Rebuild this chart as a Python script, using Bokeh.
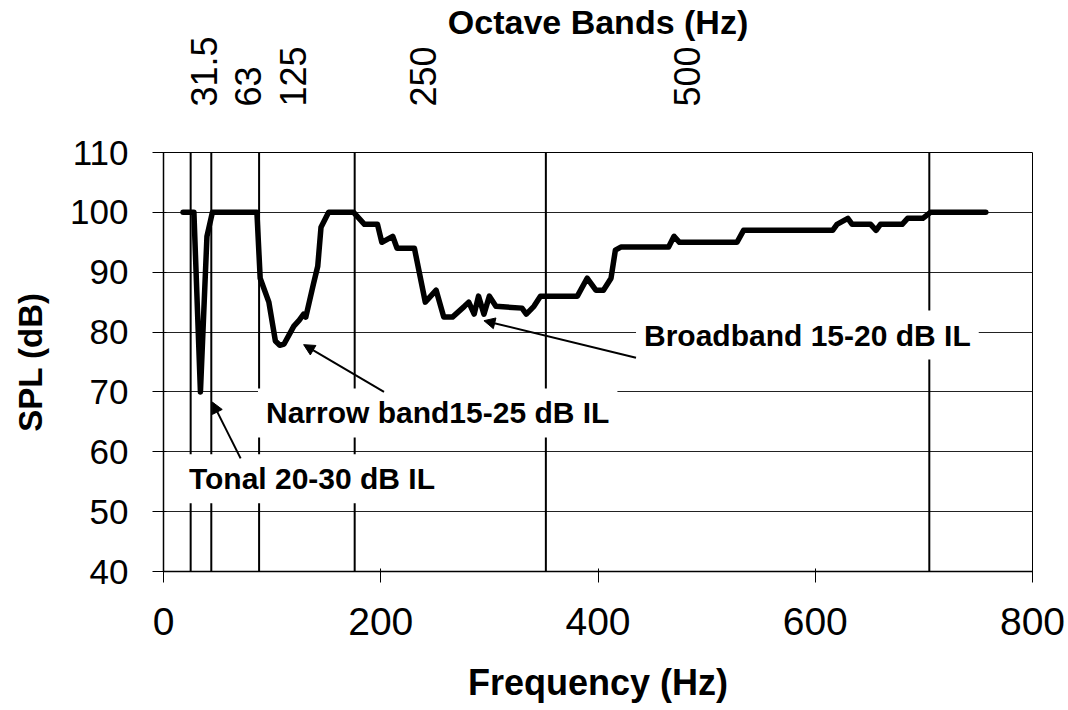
import math
from bokeh.plotting import figure
from bokeh.models import Range1d, LinearAxis, FixedTicker, Label, Arrow, NormalHead
from bokeh.embed import file_html
from bokeh.resources import INLINE

# Measured spectrum with the treatment in place
freq_hz = [18, 28, 34, 40, 45, 86, 89, 97, 103, 107, 111, 120, 125, 129, 131,
           138, 142, 145, 152, 175, 185, 197, 201, 211, 215, 231, 241, 251,
           258, 266, 277, 281, 286, 290, 295, 300, 306, 330, 334, 341, 347,
           381, 390, 398, 405, 412, 416, 421, 465, 470, 475, 528, 534, 616,
           620, 630, 634, 651, 656, 660, 680, 685, 699, 706, 757]
spl_db = [100, 100, 70, 96, 100, 100, 89, 85, 78.5, 77.8, 78, 81, 82, 83, 82.5,
          88, 91, 97.5, 100, 100, 98, 98, 95, 96, 94, 94, 85, 87,
          82.5, 82.5, 84.3, 85, 83, 86, 83, 86, 84.3, 84, 83, 84.3, 86,
          86, 89, 87, 87, 89, 93.7, 94.2, 94.2, 96, 95, 95, 97, 97,
          98, 99, 98, 98, 97, 98, 98, 99, 99, 100, 100]

# Octave band edges (Hz) and the band labels of the upper axis
band_edges_hz = [25, 44, 88, 176, 352, 705]
octave_tick_hz = [37, 78, 119, 239, 482]
octave_labels = ["31.5", "63", "125", "250", "500"]

x_ticks = [0, 200, 400, 600, 800]
y_ticks = [40, 50, 60, 70, 80, 90, 100, 110]
x_min, x_max = 0, 800
y_min, y_max = 40, 110

FONT = "Liberation Sans"

p = figure(width=1068, height=710,
           x_range=Range1d(x_min, x_max), y_range=Range1d(y_min, y_max),
           output_backend="svg", toolbar_location=None,
           min_border_left=163, min_border_right=36,
           min_border_top=148, min_border_bottom=139)
p.background_fill_color = "white"
p.border_fill_color = "white"
p.outline_line_color = "black"
p.outline_line_width = 1

# grid: horizontal only, vertical lines mark the octave bands
p.xgrid.visible = False
p.ygrid.ticker = FixedTicker(ticks=y_ticks)
p.ygrid.grid_line_color = "#222222"
p.ygrid.grid_line_width = 1

for ax, ticks in ((p.xaxis[0], x_ticks), (p.yaxis[0], y_ticks)):
    ax.ticker = FixedTicker(ticks=ticks)
    ax.axis_line_color = "black"
    ax.axis_line_width = 1.5
    ax.major_tick_line_color = "black"
    ax.major_tick_line_width = 1
    ax.major_tick_out = 11
    ax.major_tick_in = 3
    ax.minor_tick_line_color = None
    ax.major_label_text_font = FONT
    ax.major_label_text_color = "black"
    ax.axis_label_text_font = FONT
    ax.axis_label_text_font_style = "bold"
    ax.axis_label_text_color = "black"

p.xaxis.axis_label = "Frequency (Hz)"
p.xaxis.major_label_text_font_size = "39px"
p.xaxis.major_label_standoff = 25
p.xaxis.axis_label_text_font_size = "36px"
p.xaxis.axis_label_standoff = 24
p.yaxis.axis_label = "SPL (dB)"
p.yaxis.major_label_text_font_size = "35px"
p.yaxis.major_label_standoff = 24
p.yaxis.axis_label_text_font_size = "33px"
p.yaxis.axis_label_standoff = 18

top = LinearAxis(ticker=FixedTicker(ticks=octave_tick_hz),
                 major_label_overrides=dict(zip(octave_tick_hz, octave_labels)),
                 major_label_orientation=math.pi / 2,
                 axis_line_color=None, major_tick_line_color=None,
                 minor_tick_line_color=None,
                 major_label_standoff=40,
                 major_label_text_font=FONT,
                 major_label_text_font_size="36px",
                 major_label_text_color="black",
                 axis_label="Octave Bands (Hz)",
                 axis_label_text_font=FONT,
                 axis_label_text_font_style="bold",
                 axis_label_text_font_size="34px",
                 axis_label_text_color="black",
                 axis_label_standoff=-8)
p.add_layout(top, "above")

# octave band boundaries
p.segment(x0=band_edges_hz, y0=[y_min] * len(band_edges_hz),
          x1=band_edges_hz, y1=[y_max] * len(band_edges_hz),
          line_color="black", line_width=2)

# spectrum
p.line(freq_hz, spl_db, line_color="black", line_width=5.5,
       line_join="round", line_cap="round")

# annotations
def note(x, y, text):
    p.add_layout(Label(x=x, y=y, text=text, text_font=FONT,
                       text_font_style="bold", text_font_size="30px",
                       text_color="black", text_baseline="alphabetic",
                       background_fill_color="white", padding=8))

note(16, 55.5, "Tonal 20-30 dB IL")
note(87, 66.5, "Narrow band15-25 dB IL")
note(435, 79.5, "Broadband 15-20 dB IL")

def pointer(xs, ys, xe, ye):
    p.add_layout(Arrow(x_start=xs, y_start=ys, x_end=xe, y_end=ye,
                       line_color="black", line_width=2,
                       end=NormalHead(size=11, fill_color="black",
                                      line_color="black")))

pointer(71, 58.9, 45, 68.3)
pointer(203, 70.0, 129, 77.9)
pointer(435, 75.7, 295, 81.9)

open("out.html", "w").write(file_html(p, INLINE))
